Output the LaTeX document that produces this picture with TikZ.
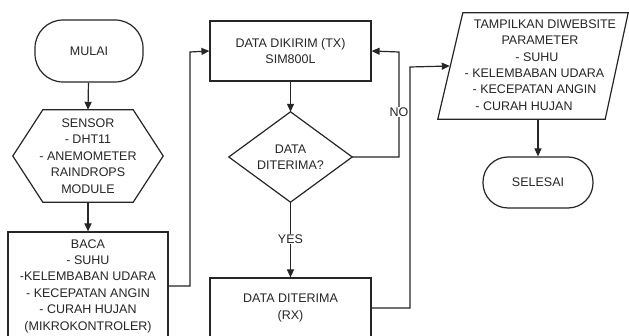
\documentclass[tikz,border=0pt]{standalone}
\usepackage{fontspec}
\setmainfont{Liberation Sans}
\usetikzlibrary{arrows.meta}
\begin{document}
\begin{tikzpicture}[x=1pt,y=-1pt,
  every node/.style={font=\fontsize{12.5}{16.4}\selectfont, text=black!85, align=center, inner sep=0pt},
  ln/.style={line width=1.2pt, draw=black!85},
  arr/.style={ln, -{Triangle[length=8pt,width=7pt]}},
  term/.style={ln, draw, rounded corners=28pt, minimum width=108pt, minimum height=62pt},
  proc/.style={ln, draw, minimum width=161pt},
  ghost/.style={draw=none},
  lab/.style={fill=white, inner sep=1pt}
]
\useasboundingbox (0,0) rectangle (629,336);
\clip (0,0) rectangle (629,336);
\fill[white] (0,0) rectangle (629,336);

\node[term] (start) at (89,51) {MULAI};
\node[ghost, minimum width=150pt, minimum height=92pt] (hex) at (88,156)
  {SENSOR\\- DHT11\\- ANEMOMETER\\RAINDROPS\\MODULE};
\draw[ln] ([xshift=30pt]hex.north west) -- ([xshift=-30pt]hex.north east) -- (hex.east)
  -- ([xshift=-30pt]hex.south east) -- ([xshift=30pt]hex.south west) -- (hex.west) -- cycle;
\node[proc, minimum width=160pt, minimum height=108pt] (baca) at (88,286)
  {BACA\\- SUHU\\-KELEMBABAN UDARA\\- KECEPATAN ANGIN\\- CURAH HUJAN\\(MIKROKONTROLER)};

\node[proc, minimum height=60pt] (tx) at (290.5,51) {DATA DIKIRIM (TX)\\SIM800L};
\node[ghost, minimum width=123pt, minimum height=90pt] (dec) at (290.5,157) {DATA\\DITERIMA?};
\draw[ln] (dec.north) -- (dec.east) -- (dec.south) -- (dec.west) -- cycle;
\node[proc, minimum height=60pt] (rx) at (290.5,308) {DATA DITERIMA\\(RX)};

\node[ghost, minimum width=190pt, minimum height=106pt] (pl) at (533,66) {};
\draw[ln] ([xshift=25pt]pl.north west) -- (pl.north east) -- ([xshift=-23pt]pl.south east)
  -- (pl.south west) -- cycle;
\node (pltext) at (534.5,65) {\hspace*{21pt}TAMPILKAN DIWEBSITE\\
  \hspace*{11pt}PARAMETER\\
  \hspace*{5pt}- SUHU\\
  - KELEMBABAN UDARA\hspace*{7pt}\\
  - KECEPATAN ANGIN\hspace*{13pt}\\
  - CURAH HUJAN\hspace*{21pt}};
\coordinate (plin) at ([xshift=12pt]pl.west);
\node[term, minimum width=110pt, minimum height=51pt, rounded corners=25pt] (end) at (538,182.5) {SELESAI};

\draw[arr] (start) -- (hex.north);
\draw[arr] (hex.south) -- (baca.north);
\draw[arr] (baca.east) -| (190,52) -- (tx.west);
\draw[arr] (tx.south) -- (dec.north);
\draw[arr] (dec.east) -| (399,52) -- (tx.east);
\node[lab] at (399,112) {NO};
\draw[arr] (dec.south) -- (rx.north);
\node[lab] at (290.5,239) {YES};
\draw[arr] (rx.east) -| (410,67) -- (plin);
\draw[arr] (end.north |- pl.south) -- (end.north);
\end{tikzpicture}
\end{document}
